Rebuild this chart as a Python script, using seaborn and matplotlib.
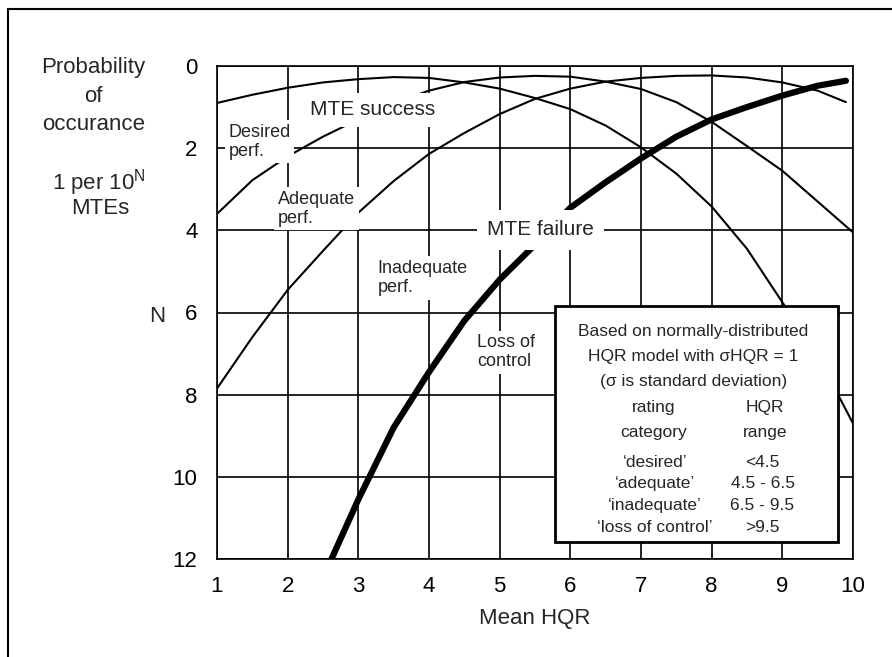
import matplotlib
matplotlib.use("Agg")
import matplotlib.pyplot as plt
import seaborn as sns
import pandas as pd
from matplotlib.lines import Line2D
from matplotlib.patches import Rectangle

# values: N where probability = 1 per 10^N MTEs
mean_hqr = [1, 1.5, 2, 2.5, 3, 3.5, 4, 4.5, 5, 5.5, 6, 6.5, 7, 7.5, 8, 8.5, 9, 9.5, 10]
desired_n = [0.9, 0.7, 0.53, 0.4, 0.32, 0.27, 0.29, 0.4, 0.55, 0.78, 1.05, 1.45, 1.98, 2.62, 3.42, 4.45, 5.75, 7.05, 8.7]
adequate_n = [3.6, 2.78, 2.2, 1.72, 1.3, 0.9, 0.6, 0.39, 0.28, 0.24, 0.26, 0.38, 0.56, 0.88, 1.36, 1.95, 2.55, 3.3, 4.05]
inadequate_x = [1, 1.5, 2, 2.5, 3, 3.5, 4, 4.5, 5, 5.5, 6, 6.5, 7, 7.5, 8, 8.5, 9, 9.5, 9.9]
inadequate_n = [7.85, 6.6, 5.45, 4.5, 3.57, 2.8, 2.14, 1.63, 1.17, 0.8, 0.55, 0.38, 0.29, 0.24, 0.23, 0.28, 0.4, 0.6, 0.88]
loss_x = [2.62, 3, 3.5, 4, 4.5, 5, 5.5, 6, 6.5, 7, 7.5, 8, 8.5, 9, 9.5, 9.9]
loss_n = [12.0, 10.55, 8.8, 7.45, 6.2, 5.2, 4.35, 3.45, 2.83, 2.25, 1.72, 1.3, 1.0, 0.72, 0.48, 0.36]

curve_labels = [("Desired\nperf.", 1.16, 1.84), ("Adequate\nperf.", 1.86, 3.47),
                ("Inadequate\nperf.", 3.27, 5.16), ("Loss of\ncontrol", 4.68, 6.97)]
rating_cats = ["\u2018desired\u2019", "\u2018adequate\u2019", "\u2018inadequate\u2019", "\u2018loss of control\u2019"]
hqr_ranges = ["<4.5", "4.5 - 6.5", "6.5 - 9.5", ">9.5"]

sns.set_style("white")
plt.rcParams["font.family"] = ["Liberation Sans", "DejaVu Sans"]
plt.rcParams["mathtext.default"] = "regular"

fig = plt.figure(figsize=(8.92, 6.57), dpi=100)
ax = fig.add_axes([217 / 892, 1 - 559 / 657, 636 / 892, 493 / 657])

curves = [
    (mean_hqr, desired_n, 1.5),
    (mean_hqr, adequate_n, 1.5),
    (inadequate_x, inadequate_n, 1.5),
    (loss_x, loss_n, 4.5),
]
for xs, ns, lw in curves:
    df = pd.DataFrame({"hqr": xs, "n": ns})
    sns.lineplot(data=df, x="hqr", y="n", ax=ax, color="black", linewidth=lw, zorder=2)

ax.set_xlim(1, 10)
ax.set_ylim(12, 0)
ax.set_xticks(range(1, 11))
ax.set_yticks(range(0, 13, 2))
ax.grid(True, color="black", linewidth=1.2)
ax.set_axisbelow(True)
for s in ax.spines.values():
    s.set_color("black")
    s.set_linewidth(1.2)
ax.tick_params(axis="x", direction="out", length=4, width=1.2, labelsize=16, pad=8, colors="black")
ax.tick_params(axis="y", direction="out", length=7, width=1.2, labelsize=16, pad=7, colors="black")
ax.set_xlabel("Mean HQR", fontsize=16, labelpad=8)
ax.set_ylabel("")

# curve labels sit on white patches that break the grid and lines
for txt, x, y in curve_labels:
    ax.text(x, y, txt, fontsize=13, ha="left", va="center", zorder=5, linespacing=1.15,
            bbox=dict(boxstyle="square,pad=0.2", fc="white", ec="none"))
ax.text(2.32, 1.07, "MTE success", fontsize=15, ha="left", va="center", zorder=5,
        bbox=dict(boxstyle="square,pad=0.35", fc="white", ec="none"))
ax.text(4.82, 3.99, "MTE failure", fontsize=15, ha="left", va="center", zorder=5,
        bbox=dict(boxstyle="square,pad=0.5", fc="white", ec="none"))

# note box
ax.add_patch(Rectangle((5.78, 5.84), 4.01, 5.75, fc="white", ec="black", lw=2, zorder=6))
note = ["Based on normally-distributed", "HQR model with \u03c3HQR = 1", "(\u03c3 is standard deviation)"]
for i, line in enumerate(note):
    ax.text(7.74, 6.47 + 0.61 * i, line, fontsize=12.5, ha="center", va="center", zorder=7)
ax.text(7.18, 8.32, "rating", fontsize=12.5, ha="center", va="center", zorder=7)
ax.text(7.18, 8.91, "category", fontsize=12.5, ha="center", va="center", zorder=7)
ax.text(8.76, 8.32, "HQR", fontsize=12.5, ha="center", va="center", zorder=7)
ax.text(8.76, 8.91, "range", fontsize=12.5, ha="center", va="center", zorder=7)
for i, (cat, rng) in enumerate(zip(rating_cats, hqr_ranges)):
    yy = 9.64 + 0.53 * i
    ax.text(7.2, yy, cat, fontsize=12.5, ha="center", va="center", zorder=7)
    ax.text(8.72, yy, rng, fontsize=12.5, ha="center", va="center", zorder=7)

# y axis caption on the left
fig.text(0.105, 1 - 68 / 657, "Probability", fontsize=16, ha="center", va="center")
fig.text(0.105, 1 - 97 / 657, "of", fontsize=16, ha="center", va="center")
fig.text(0.105, 1 - 125 / 657, "occurance", fontsize=16, ha="center", va="center")
fig.text(0.111, 1 - 183 / 657, "1 per 10$^{N}$", fontsize=16, ha="center", va="center")
fig.text(0.112, 1 - 208 / 657, "MTEs", fontsize=16, ha="center", va="center")
fig.text(157 / 892, 1 - 317 / 657, "N", fontsize=16, ha="center", va="center")

# scanned page frame (top and left edges)
fig.add_artist(Line2D([8 / 892, 8 / 892], [0, 1 - 9 / 657], transform=fig.transFigure, color="black", lw=1.5))
fig.add_artist(Line2D([8 / 892, 1], [1 - 9 / 657, 1 - 9 / 657], transform=fig.transFigure, color="black", lw=1.5))

fig.savefig("out.png", dpi=100)
